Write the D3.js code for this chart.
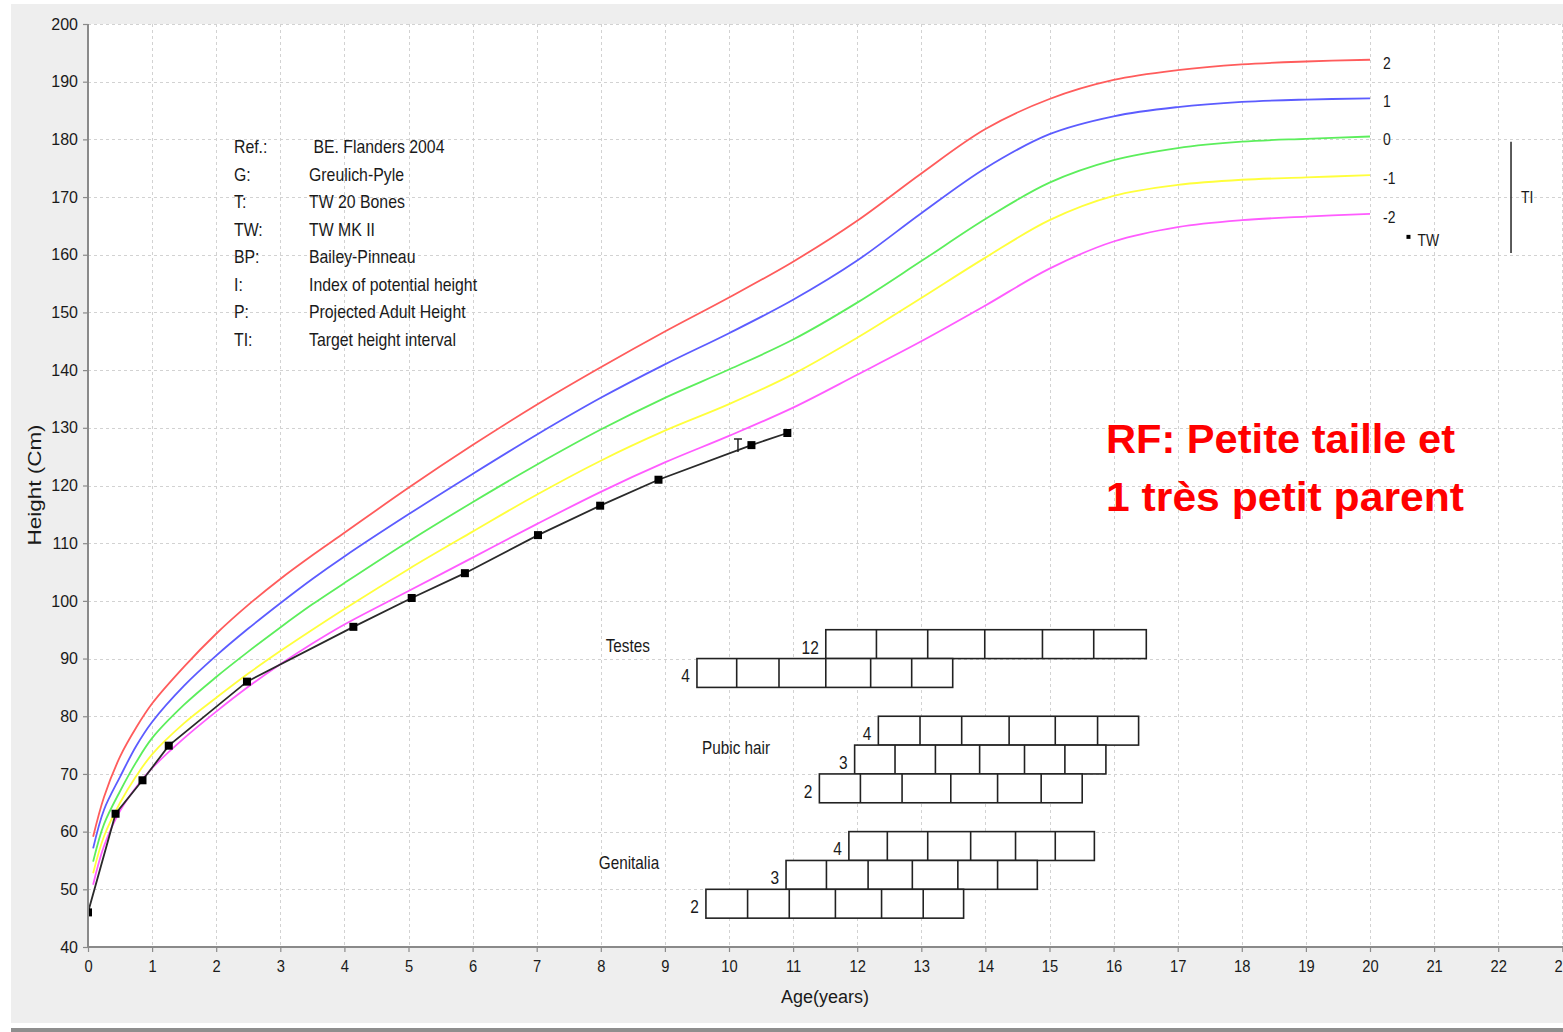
<!DOCTYPE html>
<html><head><meta charset="utf-8">
<script src="https://cdn.jsdelivr.net/npm/d3@7"></script>
<style>
html,body{margin:0;padding:0;background:#fff;overflow:hidden;}
svg{display:block;}
text{font-family:"Liberation Sans",Arial,sans-serif;fill:#1a1a1a;}
</style></head><body>
<svg id="chart" width="1563" height="1032"></svg>
<script>
// ---------- DATA ----------
const refAges = [0.08,0.25,0.5,0.75,1,1.5,2,2.5,3,3.5,4,5,6,7,8,9,10,11,12,13,14,15,16,17,18,19,20];
const sdPlus2  = [59.1,66.0,73.0,78.0,82.2,88.6,94.3,99.3,103.8,107.9,111.8,119.6,127.0,134.0,140.5,146.7,152.6,158.8,165.9,174.1,181.8,187.0,190.3,192.0,193.0,193.5,193.8];
const sdPlus1  = [57.1,63.8,69.5,74.8,79.0,85.3,90.5,95.2,99.6,103.8,107.7,115.0,122.0,128.8,135.2,141.0,146.4,152.2,159.0,167.2,175.0,180.9,184.0,185.6,186.5,186.9,187.1];
const sd0      = [54.8,61.3,67.0,72.0,76.2,82.0,86.8,91.2,95.4,99.4,103.1,110.3,117.1,123.6,129.7,135.2,140.1,145.3,151.7,158.9,166.2,172.5,176.4,178.5,179.6,180.1,180.5];
const sdMinus1 = [52.8,59.2,65.0,69.6,73.4,78.8,83.2,87.4,91.3,95.0,98.6,105.5,112.0,118.4,124.3,129.5,134.1,139.3,145.6,152.5,159.5,166.0,170.2,172.1,173.0,173.4,173.8];
const sdMinus2 = [50.8,57.5,63.6,67.7,71.0,76.2,80.8,85.1,89.0,92.6,95.9,101.7,107.5,113.3,118.9,124.0,128.6,133.5,139.2,145.0,151.2,157.6,162.3,164.8,166.0,166.6,167.1];
const sdLabels = ["2","1","0","-1","-2"];
const sdColors = ["#ff5c5c","#5c5cff","#5cee5c","#ffff3c","#ff5cff"];

const patientAges    = [0, 0.43, 0.85, 1.26, 2.48, 4.14, 5.05, 5.88, 7.02, 7.99, 8.90, 10.35, 10.91];
const patientHeights = [46.0, 63.1, 68.9, 74.9, 86.0, 95.5, 100.5, 104.8, 111.4, 116.5, 121.0, 127.0, 129.1];
const boneAgeT = [10.14, 127.0];          // "T" marker (age, height)
const twPoint = [20.6, 163.1];            // TW predicted height
const targetInterval = [22.2, 160.3, 179.6];   // age, low, high

const xTickValues = d3.range(0, 24);
const yTickValues = d3.range(40, 201, 10);

const legendKeys = ["Ref.:","G:","T:","TW:","BP:","I:","P:","TI:"];
const legendValues = [" BE. Flanders 2004","Greulich-Pyle","TW 20 Bones","TW MK II","Bailey-Pinneau","Index of potential height","Projected Adult Height","Target height interval"];

// puberty stage percentile ages (P3..P97 boundaries) and their height bands (cm)
const testes4Ages    = [9.50,10.12,10.78,11.51,12.21,12.85,13.49];
const testes12Ages   = [11.51,12.30,13.10,13.99,14.89,15.69,16.51];
const pubicHair2Ages = [11.41,12.05,12.70,13.46,14.19,14.87,15.51];
const pubicHair3Ages = [11.96,12.59,13.22,13.91,14.61,15.24,15.88];
const pubicHair4Ages = [12.33,12.98,13.63,14.37,15.09,15.75,16.39];
const genitalia2Ages = [9.64,10.29,10.94,11.66,12.38,13.03,13.66];
const genitalia3Ages = [10.89,11.52,12.17,12.86,13.57,14.19,14.81];
const genitalia4Ages = [11.87,12.47,13.10,13.77,14.47,15.09,15.70];
const stageLabels = ["12","4","4","3","2","4","3","2"];
const stageBands  = [[90,95],[85,90],[75,80],[70,75],[65,70],[55,60],[50,55],[45,50]];
const groupNames  = ["Testes","Pubic hair","Genitalia"];
const groupAnchors = [[8.42,92.3],[10.11,74.5],[8.44,54.6]];

const noteLines = ["RF: Petite taille et","1 très petit parent"];

// ---------- CHART ----------
const W = 1563, H = 1032;
const svg = d3.select("#chart");
const x = d3.scaleLinear().domain([0,23]).range([88, 88 + 23*64.1]);
const y = d3.scaleLinear().domain([40,200]).range([947,24]);

svg.append("rect").attr("width",W).attr("height",H).attr("fill","#fff");
svg.append("rect").attr("x",11).attr("y",4).attr("width",W-11).attr("height",1019).attr("fill","#eeeeee");
svg.append("rect").attr("x",11).attr("y",1028).attr("width",W-11).attr("height",4).attr("fill","#8e8e8e");

const px0 = x(0), py0 = y(200), pw = W - px0, ph = y(40) - y(200);
svg.append("rect").attr("x",px0).attr("y",py0).attr("width",pw).attr("height",ph).attr("fill","#fff");
svg.append("clipPath").attr("id","plotclip").append("rect")
  .attr("x",px0).attr("y",py0).attr("width",pw).attr("height",ph);

// grid
const grid = svg.append("g").attr("stroke","#d2d2d2").attr("stroke-width",1).attr("stroke-dasharray","3,3");
grid.selectAll("line.v").data(xTickValues.filter(d=>d>0)).join("line")
  .attr("x1",d=>Math.round(x(d))+0.5).attr("x2",d=>Math.round(x(d))+0.5)
  .attr("y1",py0).attr("y2",y(40));
grid.selectAll("line.h").data(yTickValues.filter(d=>d>40)).join("line")
  .attr("x1",px0).attr("x2",W)
  .attr("y1",d=>Math.round(y(d))+0.5).attr("y2",d=>Math.round(y(d))+0.5);

function txt(g, str, tx, ty, size, sx, anchor){
  return g.append("text").text(str)
    .attr("transform",`translate(${tx},${ty}) scale(${sx},1)`)
    .attr("font-size",size).attr("text-anchor",anchor||"start")
    .attr("dy","0.35em").style("white-space","pre");
}

const plot = svg.append("g").attr("clip-path","url(#plotclip)");

// SD curves
const sdSeries = [sdPlus2, sdPlus1, sd0, sdMinus1, sdMinus2];
const line = d3.line().x((d,i)=>x(refAges[i])).y(d=>y(d)).curve(d3.curveCatmullRom.alpha(0.5));
plot.selectAll("path.sd").data(sdSeries).join("path")
  .attr("fill","none").attr("stroke",(d,i)=>sdColors[i]).attr("stroke-width",1.8)
  .attr("d",line);
const labelsG = svg.append("g");
sdSeries.forEach((s,i)=>{
  txt(labelsG, sdLabels[i], x(20)+13, y(s[s.length-1])+3, 17, 0.82);
});

// puberty boxes
const stageAges = [testes12Ages,testes4Ages,pubicHair4Ages,pubicHair3Ages,pubicHair2Ages,genitalia4Ages,genitalia3Ages,genitalia2Ages];
const boxes = plot.append("g");
stageAges.forEach((ages,k)=>{
  const [lo,hi] = stageBands[k];
  const row = boxes.append("g");
  row.append("rect").attr("x",x(ages[0])).attr("y",y(hi))
    .attr("width",x(ages[ages.length-1])-x(ages[0])).attr("height",y(lo)-y(hi))
    .attr("fill","#fff").attr("stroke","#222").attr("stroke-width",1.6);
  row.selectAll("line").data(ages.slice(1,-1)).join("line")
    .attr("x1",d=>x(d)).attr("x2",d=>x(d)).attr("y1",y(hi)).attr("y2",y(lo))
    .attr("stroke","#222").attr("stroke-width",1.6);
  txt(svg, stageLabels[k], x(ages[0])-7, y(lo)-5, 18, 0.86, "end").attr("dy",null);
});
groupNames.forEach((n,i)=>{
  txt(svg, n, x(groupAnchors[i][0]), y(groupAnchors[i][1]), 18, 0.85, "middle");
});

// patient
const pLine = d3.line().x((d,i)=>x(patientAges[i])).y(d=>y(d));
plot.append("path").attr("d",pLine(patientHeights)).attr("fill","none")
  .attr("stroke","#2a2a2a").attr("stroke-width",1.8);
plot.selectAll("rect.pt").data(patientHeights).join("rect")
  .attr("x",(d,i)=>x(patientAges[i])-4).attr("y",d=>y(d)-4)
  .attr("width",8).attr("height",8).attr("fill","#000");
// bone age T marker
const tx0 = x(boneAgeT[0]), ty0 = y(boneAgeT[1]);
plot.append("path").attr("d",`M${tx0-4},${ty0-6}H${tx0+4}M${tx0},${ty0-6}V${ty0+7}`)
  .attr("stroke","#222").attr("stroke-width",1.5).attr("fill","none");

// TW point and TI interval
plot.append("rect").attr("x",x(twPoint[0])-2).attr("y",y(twPoint[1])-2).attr("width",4).attr("height",4).attr("fill","#000");
txt(svg,"TW",x(twPoint[0])+9,y(twPoint[1])+3,17,0.82);
plot.append("line").attr("x1",x(targetInterval[0])).attr("x2",x(targetInterval[0]))
  .attr("y1",y(targetInterval[2])).attr("y2",y(targetInterval[1]))
  .attr("stroke","#333").attr("stroke-width",1.6);
txt(svg,"TI",x(targetInterval[0])+10,y((targetInterval[1]+targetInterval[2])/2)+0,17,0.82);

// legend
const lg = svg.append("g");
legendKeys.forEach((k,i)=>{
  txt(lg,k,234,147+i*27.5,18,0.88);
  txt(lg,legendValues[i],309,147+i*27.5,18,0.88);
});

// axes
const axL = svg.append("g").attr("transform",`translate(${px0},0)`)
  .call(d3.axisLeft(y).tickValues(yTickValues).tickSize(5).tickSizeOuter(0).tickPadding(5));
const axB = svg.append("g").attr("transform",`translate(0,${y(40)})`)
  .call(d3.axisBottom(x).tickValues(xTickValues).tickSize(5).tickSizeOuter(0).tickPadding(9));
[axL,axB].forEach(a=>{
  a.select(".domain").attr("stroke","#8a8a8a").attr("stroke-width",2);
  a.selectAll(".tick line").attr("stroke","#8a8a8a").attr("stroke-width",1.2);
  a.selectAll(".tick text").attr("font-size",16).attr("font-family","Liberation Sans, Arial, sans-serif").attr("fill","#1a1a1a");
});
axB.selectAll(".tick text").attr("transform","scale(0.92,1)");
axB.select(".domain").attr("d",`M${px0},0H${W}`);
axL.select(".domain").attr("d",`M0,${py0}V${y(40)}`);

// axis titles
svg.append("text").text("Age(years)").attr("x",825).attr("y",1003)
  .attr("text-anchor","middle").attr("font-size",18);
svg.append("text").text("Height (Cm)")
  .attr("transform","translate(35,485) rotate(-90) scale(1.25,1)")
  .attr("text-anchor","middle").attr("dy","0.35em").attr("font-size",18);

// red note
const note = svg.append("g");
note.append("text").text(noteLines[0]).attr("x",1106).attr("y",453)
  .attr("font-family","Lato, 'Open Sans', sans-serif").attr("font-weight","bold")
  .attr("font-size",40).style("fill","#ff0000")
  .attr("textLength",349).attr("lengthAdjust","spacingAndGlyphs");
note.append("text").text(noteLines[1]).attr("x",1106).attr("y",511)
  .attr("font-family","Lato, 'Open Sans', sans-serif").attr("font-weight","bold")
  .attr("font-size",40).style("fill","#ff0000")
  .attr("textLength",358).attr("lengthAdjust","spacingAndGlyphs");
</script>
</body></html>
